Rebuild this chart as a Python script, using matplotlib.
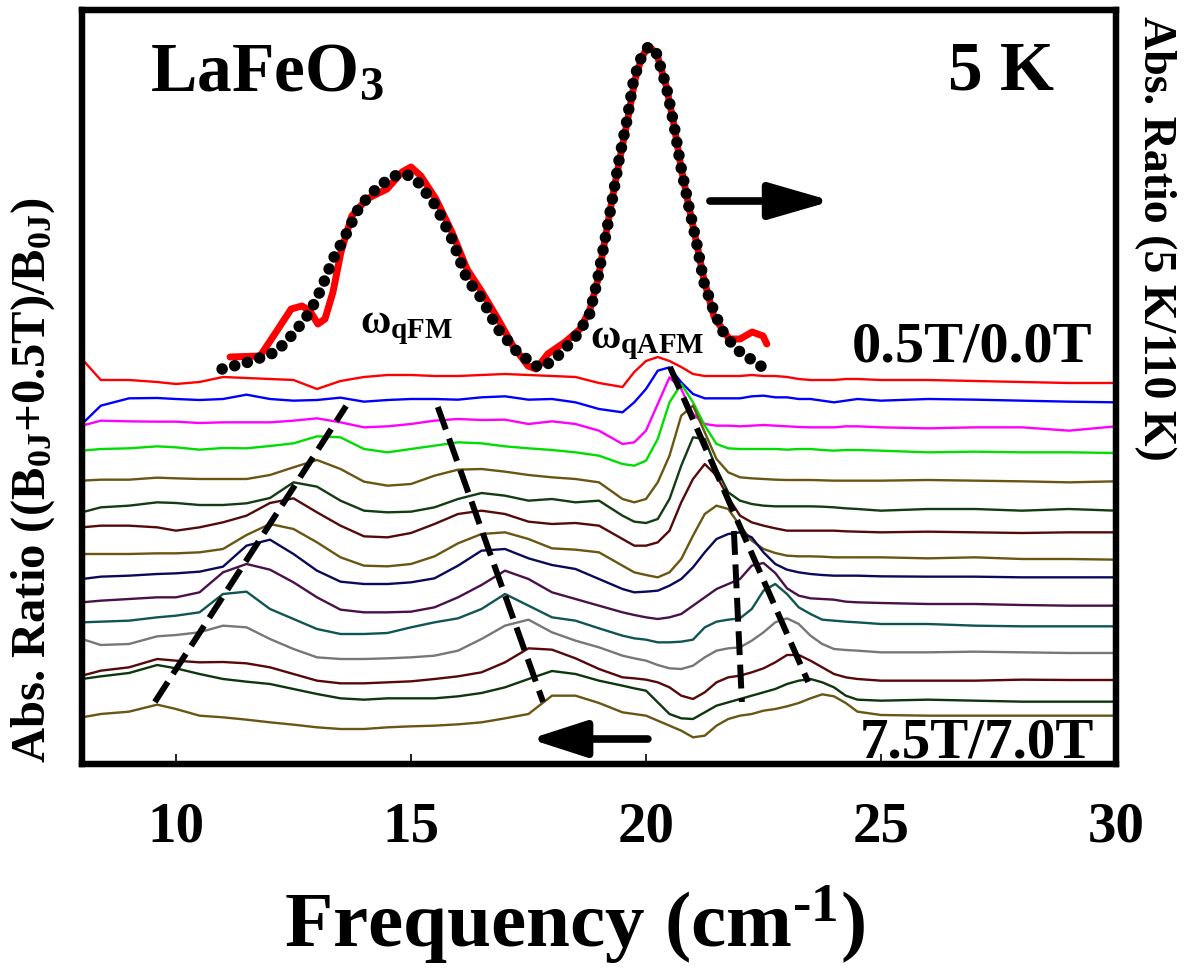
import matplotlib
matplotlib.use('Agg')
import matplotlib.pyplot as plt
import numpy as np

plt.rcParams['font.family'] = ['Liberation Serif', 'DejaVu Serif']
plt.rcParams['font.weight'] = 'bold'
plt.rcParams['mathtext.fontset'] = 'custom'
plt.rcParams['mathtext.rm'] = 'Liberation Serif:bold'
plt.rcParams['mathtext.it'] = 'Liberation Serif:bold'
plt.rcParams['mathtext.bf'] = 'Liberation Serif:bold'
plt.rcParams['mathtext.default'] = 'rm'

# ---------------- data ----------------
freq = [8.0, 8.4, 9.0, 9.6, 10.0, 10.5, 11.0, 11.5, 12.0, 12.5, 13.0, 13.5, 14.0, 14.5,
        15.0, 15.5, 16.0, 16.5, 17.0, 17.5, 18.0, 18.5, 19.0, 19.5, 19.75, 20.0, 20.25,
        20.5, 20.75, 21.0, 21.25, 21.5, 21.75, 22.0, 22.25, 22.5, 22.75, 23.0, 23.25,
        23.5, 23.75, 24.0, 24.25, 24.5, 25.0, 26.0, 27.0, 28.0, 29.0, 30.0]

# offset spectra, given as depth below a reference level (units of 1/300)
REF_LEVEL = 4.2
DEPTH_UNIT = 300.0
r05 = [30, 93, 93, 99, 105, 99, 84, 87, 90, 93, 120, 96, 84, 78, 78, 81, 81, 78, 75, 78, 81, 84, 102,
       114, 69, 36, 24, 36, 54, 75, 81, 81, 81, 81, 78, 81, 81, 84, 90, 93, 93, 93, 90, 90,
       93, 93, 96, 99, 102, 102]
r10 = [225, 170, 148, 147, 150, 153, 150, 137, 150, 155, 153, 146, 158, 153, 150, 150, 152, 145, 142, 152, 150, 160, 180,
       190, 160, 120, 65, 55, 100, 135, 148, 148, 148, 148, 142, 140, 145, 145, 150, 150, 155, 160, 155, 150,
       155, 150, 152, 155, 158, 160]
r15 = [230, 215, 217, 218, 218, 222, 220, 220, 220, 215, 208, 220, 235, 232, 225, 215, 210, 213, 212, 225, 217, 225, 245,
       285, 280, 245, 165, 85, 120, 195, 225, 230, 230, 232, 230, 228, 230, 232, 234, 235, 235, 235, 232, 232,
       235, 238, 235, 235, 245, 232]
r20 = [305, 300, 298, 292, 295, 302, 297, 298, 291, 283, 262, 265, 300, 310, 300, 290, 280, 283, 292, 298, 303, 310, 320,
       345, 350, 335, 270, 160, 105, 160, 230, 285, 298, 300, 300, 300, 300, 302, 300, 300, 303, 305, 303, 303,
       305, 310, 308, 310, 310, 312]
r25 = [395, 392, 392, 386, 388, 390, 390, 390, 378, 355, 333, 360, 398, 410, 405, 380, 362, 360, 368, 378, 385, 390, 400,
       450, 460, 450, 400, 320, 200, 170, 250, 330, 370, 385, 388, 390, 392, 393, 393, 393, 394, 395, 395, 395,
       395, 393, 395, 397, 400, 397]
r30 = [490, 475, 470, 460, 462, 468, 468, 463, 447, 400, 413, 455, 485, 490, 488, 475, 450, 432, 440, 455, 450, 460, 455,
       500, 518, 522, 510, 450, 350, 265, 270, 360, 430, 455, 465, 470, 472, 472, 472, 472, 473, 475, 478, 480,
       485, 480, 480, 485, 480, 485]
r35 = [535, 530, 530, 535, 545, 535, 520, 500, 462, 448, 490, 530, 562, 565, 552, 525, 495, 485, 495, 518, 525, 522, 530,
       570, 590, 590, 580, 545, 460, 390, 345, 380, 445, 500, 520, 530, 538, 545, 545, 545, 545, 545, 547, 548,
       550, 548, 550, 552, 550, 550]
r40 = [615, 615, 615, 613, 613, 610, 600, 558, 525, 540, 580, 625, 650, 652, 645, 622, 583, 555, 550, 570, 598, 602, 610,
       650, 670, 678, 685, 670, 630, 560, 495, 470, 480, 530, 575, 600, 612, 620, 622, 622, 623, 625, 625, 625,
       625, 628, 625, 630, 630, 632]
r45 = [690, 683, 680, 675, 673, 668, 653, 590, 572, 615, 665, 698, 705, 705, 700, 688, 650, 605, 600, 628, 648, 660, 690,
       720, 730, 728, 725, 710, 690, 655, 610, 570, 555, 550, 565, 610, 645, 662, 670, 675, 678, 680, 680, 680,
       682, 683, 683, 685, 685, 685]
r50 = [760, 755, 750, 745, 745, 730, 670, 645, 662, 700, 745, 782, 790, 790, 788, 775, 745, 708, 665, 690, 730, 750, 770,
       790, 798, 805, 810, 805, 795, 770, 745, 720, 705, 690, 650, 642, 672, 718, 740, 748, 750, 752, 758, 760,
       762, 765, 765, 768, 770, 770]
r55 = [820, 818, 815, 805, 800, 790, 735, 728, 780, 810, 840, 855, 855, 852, 835, 820, 808, 780, 735, 770, 805, 815, 838,
       860, 868, 872, 880, 880, 878, 872, 835, 818, 812, 808, 780, 725, 705, 735, 775, 795, 812, 815, 818, 820,
       825, 825, 830, 832, 832, 832]
r60 = [870, 888, 885, 862, 858, 850, 830, 835, 870, 900, 925, 930, 930, 928, 925, 920, 905, 870, 830, 812, 850, 875, 895,
       920, 928, 935, 948, 958, 960, 950, 925, 905, 898, 895, 875, 850, 820, 808, 825, 860, 885, 900, 903, 905,
       910, 910, 908, 910, 912, 912]
r65 = [980, 965, 955, 930, 935, 940, 939, 943, 955, 975, 995, 1003, 1003, 1000, 997, 990, 982, 970, 940, 898, 902, 928, 960,
       985, 988, 992, 1000, 1015, 1040, 1050, 1030, 1000, 985, 980, 970, 958, 940, 918, 918, 935, 955, 975, 985, 990,
       995, 995, 995, 992, 993, 993]
r70 = [990, 982, 972, 948, 958, 975, 990, 998, 1005, 1020, 1035, 1048, 1052, 1048, 1048, 1048, 1042, 1032, 1015, 990, 966, 975, 995,
       1010, 1018, 1025, 1060, 1095, 1108, 1110, 1090, 1070, 1060, 1050, 1040, 1030, 1020, 1005, 995, 990, 1000, 1015, 1040, 1052,
       1055, 1052, 1055, 1058, 1058, 1058]
r75 = [1105, 1095, 1088, 1067, 1080, 1100, 1105, 1112, 1120, 1127, 1135, 1140, 1140, 1135, 1132, 1130, 1126, 1120, 1108, 1095, 1040, 1040, 1062,
       1090, 1095, 1100, 1115, 1130, 1145, 1165, 1160, 1130, 1110, 1100, 1095, 1085, 1080, 1072, 1062, 1048, 1036, 1042, 1062, 1088,
       1098, 1100, 1100, 1100, 1100, 1100]

field_labels = ['0.5T/0.0T', '1.0T/0.5T', '1.5T/1.0T', '2.0T/1.5T', '2.5T/2.0T', '3.0T/2.5T',
                '3.5T/3.0T', '4.0T/3.5T', '4.5T/4.0T', '5.0T/4.5T', '5.5T/5.0T', '6.0T/5.5T',
                '6.5T/6.0T', '7.0T/6.5T', '7.5T/7.0T']
series_colors = ['#ff0000', '#0000ff', '#ff00ff', '#00dd00', '#6a5512', '#123c12', '#550a0a',
                 '#6a5512', '#0a0a5a', '#4a104a', '#0f5555', '#777777', '#580808', '#0c360c', '#6a5512']

# 5 K / 110 K absorbance ratio (right axis)
ratio_x = [11.15, 11.79, 12.13, 12.45, 12.68, 12.85, 13.02, 13.17, 13.34, 13.51, 13.74, 14.06, 14.49, 14.81,
           15.00, 15.21, 15.53, 15.87, 16.19, 16.51, 16.85, 17.17, 17.49, 17.66, 17.91, 18.28, 18.60, 18.81,
           18.98, 19.13, 19.28, 19.45, 19.62, 19.77, 19.91, 20.06, 20.23, 20.43, 20.60, 20.74, 20.91, 21.09,
           21.23, 21.45, 21.77, 22.00, 22.26, 22.49, 22.57]
ratio_y = [4.12, 4.13, 4.37, 4.60, 4.63, 4.58, 4.45, 4.50, 4.77, 5.17, 5.53, 5.70, 5.80, 5.97, 6.02, 5.93,
           5.70, 5.37, 5.00, 4.77, 4.50, 4.23, 4.03, 4.00, 4.15, 4.27, 4.40, 4.60, 4.90, 5.30, 5.70, 6.12,
           6.52, 6.90, 7.12, 7.23, 7.15, 6.83, 6.43, 6.03, 5.63, 5.23, 4.90, 4.52, 4.30, 4.30, 4.37, 4.33, 4.25]
fit_x = [10.98, 11.55, 12.13, 12.53, 12.85, 13.09, 13.34, 13.57, 13.91, 14.32, 14.64, 14.89, 15.13, 15.53,
         15.87, 16.19, 16.51, 16.85, 17.26, 17.66, 17.81, 18.06, 18.47, 18.79, 18.96, 19.13, 19.26, 19.43,
         19.60, 19.74, 19.91, 20.06, 20.23, 20.43, 20.60, 20.74, 20.91, 21.09, 21.23, 21.45, 21.68, 22.00,
         22.32, 22.53]
fit_y = [4.00, 4.07, 4.17, 4.37, 4.57, 4.80, 5.10, 5.30, 5.63, 5.83, 5.93, 5.95, 5.88, 5.63, 5.30, 4.90,
         4.70, 4.40, 4.17, 4.03, 4.02, 4.10, 4.30, 4.53, 4.87, 5.30, 5.63, 6.10, 6.50, 6.90, 7.13, 7.23,
         7.15, 6.83, 6.43, 6.03, 5.63, 5.23, 4.87, 4.57, 4.33, 4.17, 4.07, 4.00]

# guide lines following the mode positions
fm_low_x, fm_low_y = [9.55, 13.62], [0.67, 3.63]
fm_high_x, fm_high_y = [15.57, 17.81], [3.62, 0.67]
afm_high_x, afm_high_y = [20.51, 23.45], [4.02, 0.87]
afm_low_x, afm_low_y = [21.87, 22.04], [2.38, 0.67]

xticks = [10, 15, 20, 25, 30]

# ---------------- figure ----------------
W, H = 1194, 978
fig = plt.figure(figsize=(W / 100, H / 100), dpi=100)
ax = fig.add_axes([82 / W, 1 - 765 / H, (1116 - 82) / W, (765 - 11) / H])
ax.set_xlim(8.0, 30.0)
ax.set_ylim(0.05, 7.59)

all_series = [r05, r10, r15, r20, r25, r30, r35, r40, r45, r50, r55, r60, r65, r70, r75]
for vals, col, lab in zip(all_series, series_colors, field_labels):
    level = REF_LEVEL - np.array(vals, dtype=float) / DEPTH_UNIT
    ax.plot(freq, level, color=col, lw=1.7, label=lab, zorder=2, solid_joinstyle='round')

for gx, gy in [(fm_low_x, fm_low_y), (fm_high_x, fm_high_y),
               (afm_high_x, afm_high_y), (afm_low_x, afm_low_y)]:
    ax.plot(gx, gy, color='black', lw=4.3, linestyle=(0, (4.0, 1.6)), zorder=4)

ax.set_xticks(xticks)
ax.set_xticklabels([str(t) for t in xticks], fontsize=41, fontweight='bold')
ax.tick_params(axis='x', direction='in', length=7, width=1.2, pad=26, top=False)
ax.set_yticks([])
for sp in ax.spines.values():
    sp.set_linewidth(4.5)

# right axis spectrum
ax2 = ax.twinx()
ax2.set_ylim(0.05, 7.59)
ax2.set_yticks([])
ax2.plot(ratio_x, ratio_y, color='#ff0000', lw=5.0, solid_capstyle='round',
         solid_joinstyle='round', zorder=3)
ax2.plot(fit_x, fit_y, color='black', lw=8.3, linestyle=(0, (0.01, 1.12)),
         dash_capstyle='round', zorder=4)
for sp in ax2.spines.values():
    sp.set_linewidth(4.5)

# annotations
ax.text(9.45, 6.80, 'LaFeO$_3$', fontsize=50, fontweight='bold', ha='left', va='baseline')
ax.text(28.68, 6.80, '5 K', fontsize=50, fontweight='bold', ha='right', va='baseline')
ax.text(29.49, 4.08, '0.5T/0.0T', fontsize=42, fontweight='bold', ha='right', va='baseline')
ax.text(29.53, 0.12, '7.5T/7.0T', fontsize=41, fontweight='bold', ha='right', va='baseline')
ax.text(13.91, 4.37, 'ω$_{\\mathrm{qFM}}$', fontsize=30, fontweight='bold', ha='left', va='baseline')
ax.text(18.81, 4.22, 'ω$_{\\mathrm{qAFM}}$', fontsize=30, fontweight='bold', ha='left', va='baseline')

ax.annotate('', xy=(23.96, 5.68), xytext=(21.36, 5.68),
            arrowprops=dict(arrowstyle='-|>,head_length=1.9,head_width=0.55', lw=5.5,
                            color='black', mutation_scale=20, shrinkA=0, shrinkB=0), zorder=5)
ax.annotate('', xy=(17.53, 0.30), xytext=(20.04, 0.30),
            arrowprops=dict(arrowstyle='-|>,head_length=1.7,head_width=0.55', lw=5.5,
                            color='black', mutation_scale=20, shrinkA=0, shrinkB=0), zorder=5)

fig.text(574 / W, 1 - 947 / H, 'Frequency (cm$^{\\text{-}1}$)', fontsize=57, fontweight='bold',
         ha='center', va='baseline')
fig.text(33 / W, 1 - 480 / H, 'Abs. Ratio ((B$_{0J}$+0.5T)/B$_{0J}$)', fontsize=35, fontweight='bold',
         rotation=90, ha='center', va='center')
fig.text(1155 / W, 1 - 238 / H, 'Abs. Ratio (5 K/110 K)', fontsize=33, fontweight='bold',
         rotation=270, ha='center', va='center')

fig.savefig('out.png', dpi=100)
